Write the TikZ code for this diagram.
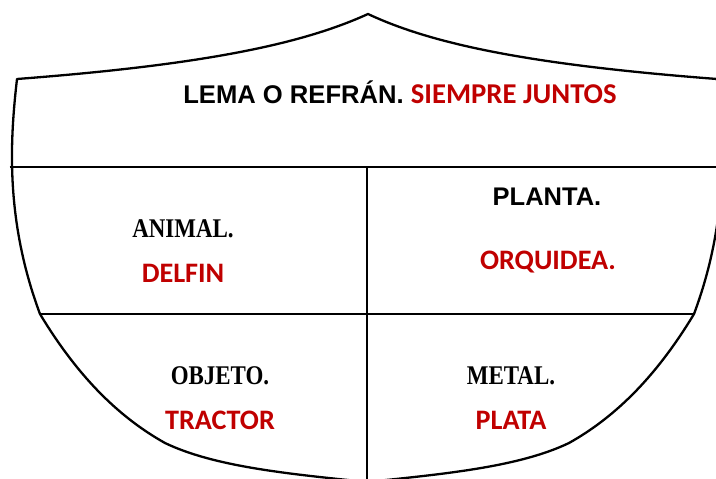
\documentclass[tikz,border=0pt]{standalone}
\usepackage{fontspec}
\usepackage{tikz}
\usetikzlibrary{positioning}
\setmainfont{Liberation Serif}
\newfontfamily\arialB{Liberation Sans}
\newfontfamily\calibriB{Carlito}
\newfontfamily\cambriaB[FakeStretch=0.85]{Liberation Serif}
\definecolor{mainBlack}{gray}{0.0}
\definecolor{textRed}{HTML}{C00000}

\begin{document}
\begin{tikzpicture}[x=1pt, y=-1pt,
    shieldline/.style={line width=2.3pt, mainBlack, line join=round},
    headsans/.style={anchor=base, inner sep=0pt, font=\arialB\bfseries\fontsize{25.5}{30}\selectfont},
    headserif/.style={anchor=base, inner sep=0pt, font=\cambriaB\bfseries\fontsize{27}{30}\selectfont},
    answer/.style={anchor=base, inner sep=0pt, textRed, font=\calibriB\bfseries\fontsize{28.2}{30}\selectfont}]
    \clip (0,0) rectangle (716,479);
    \fill[white] (0,0) rectangle (716,479);

    % Coordinates
    \coordinate (TL) at (17,79);
    \coordinate (TR) at (717,79);
    \coordinate (Top) at (368,14);
    \coordinate (Tip) at (367,482);
    \coordinate (L1) at (9.5,167);
    \coordinate (R1) at (724.5,167);
    \coordinate (L2) at (40,314);
    \coordinate (R2) at (694,314);
    \coordinate (LK) at (165,443); % knee of the lower curve
    \coordinate (RK) at (569,443);
    \coordinate (M1) at (367,167);

    % Shield
    \draw[shieldline] (TL) .. controls (200,65) and (300,45) .. (Top)
        .. controls (434,45) and (534,65) .. (TR)
        .. controls (724,140) and (729,220) .. (R2)
        .. controls (659,372) and (619,415) .. (RK)
        .. controls (519,467) and (444,474) .. (Tip)
        .. controls (290,474) and (215,467) .. (LK)
        .. controls (115,415) and (75,372) .. (L2)
        .. controls (5,220) and (10,140) .. (TL) -- cycle;

    % Divisions
    \draw[shieldline] (L1) -- (R1);
    \draw[shieldline] (L2) -- (R2);
    \draw[shieldline] (M1) -- (Tip);

    % Labels
    \node[anchor=base, inner sep=0pt] (lema) at (400,103)
        {{\arialB\bfseries\fontsize{25.6}{30}\selectfont LEMA O REFRÁN. }{\color{textRed}\calibriB\bfseries\fontsize{28.7}{30}\selectfont SIEMPRE JUNTOS}};
    \node[headserif] (animal) at (183,237) {ANIMAL.};
    \node[answer] (delfin) at (183,282) {DELFIN};
    \node[headsans] (planta) at (547,205) {PLANTA.};
    \node[answer] (orquidea) at (548,269) {ORQUIDEA.};
    \node[headserif] (objeto) at (220,384) {OBJETO.};
    \node[answer] (tractor) at (220,429) {TRACTOR};
    \node[headserif] (metal) at (511,384) {METAL.};
    \node[answer] (plata) at (511,429) {PLATA};
\end{tikzpicture}
\end{document}
